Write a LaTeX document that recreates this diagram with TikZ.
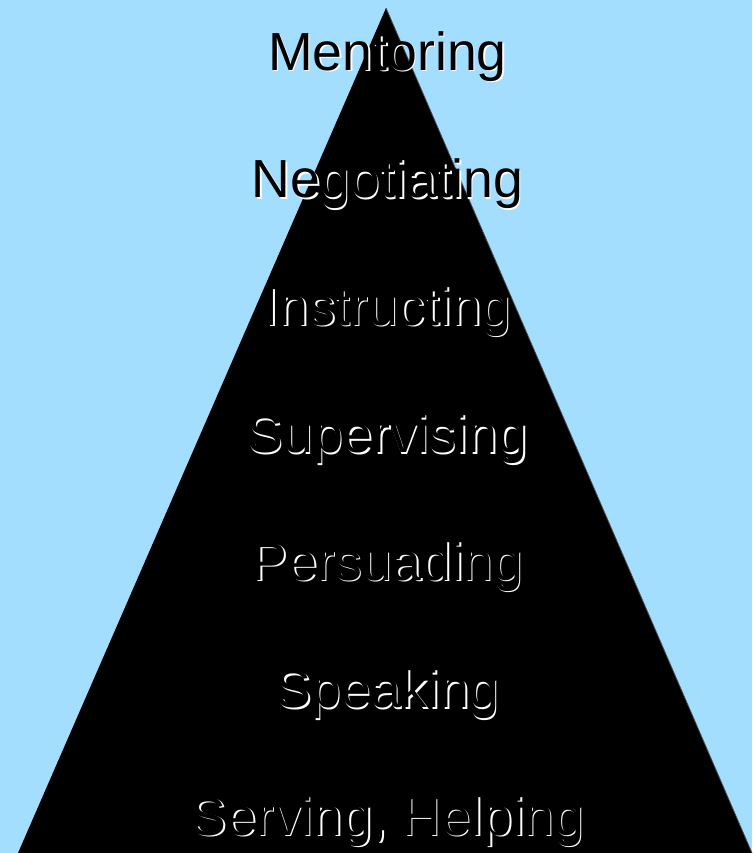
\documentclass[tikz,border=0pt]{standalone}
\usepackage{fontspec}
\setmainfont{Liberation Sans}
\usetikzlibrary{positioning}
\definecolor{skyback}{RGB}{163,222,255}

\begin{document}
\begin{tikzpicture}[x=0.5pt, y=-0.5pt,
	lvl/.style={font=\fontsize{26.8}{30}\selectfont, inner sep=0pt, anchor=base, text=black},
	lvlshade/.style={lvl, text=white}]
	\fill[skyback] (0,0) rectangle (752,853);
	\useasboundingbox (0,0) rectangle (752,853);

	\coordinate (apex) at (386,8);
	\coordinate (baseL) at (18,853);
	\coordinate (baseR) at (752,853);
	\fill[black] (apex) -- (baseL) -- (baseR) -- cycle;
	\draw[black!70, line width=0.4pt] (apex) -- (baseR);

	% levels, top to bottom
	\foreach \n/\y/\t in {mentor/70/Mentoring, negot/197.5/Negotiating,
		instr/325/Instructing, superv/452.5/Supervising,
		persu/580/Persuading, speak/707.5/Speaking,
		serve/835/{Serving, Helping}} {
		\node[lvlshade] (\n s) at (389,\y+1.5) {\t};
		\node[lvl] (\n) at (387.5,\y) {\t};
	}
\end{tikzpicture}
\end{document}
